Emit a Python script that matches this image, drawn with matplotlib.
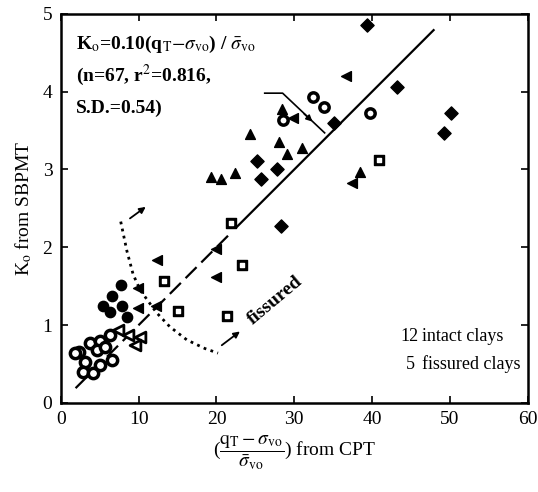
import numpy as np
import matplotlib.pyplot as plt

plt.rcParams['font.family'] = 'Liberation Serif'
plt.rcParams['mathtext.fontset'] = 'stix'

# data
dia_x = [39.3, 43.2, 35.1, 50.1, 49.2, 25.2, 27.8, 25.7, 28.3]
dia_y = [4.86, 4.06, 3.60, 3.73, 3.47, 3.11, 3.01, 2.88, 2.27]

tri_x = [28.4, 24.3, 28.1, 29.0, 31.0, 19.3, 20.6, 22.4, 38.4]
tri_y = [3.78, 3.46, 3.35, 3.20, 3.28, 2.90, 2.88, 2.96, 2.97]

ltri_x = [29.8, 37.4, 36.7, 12.3, 19.9, 19.9, 9.9, 12.2, 9.9]
ltri_y = [3.66, 2.83, 4.20, 1.84, 1.98, 1.62, 1.48, 1.24, 1.22]

sq_x = [21.9, 40.9, 23.3, 15.0, 21.3, 13.2]
sq_y = [2.31, 3.12, 1.77, 1.18, 1.12, 1.57]

hcirc_x = [32.4, 33.8, 39.7, 28.5]
hcirc_y = [3.93, 3.80, 3.72, 3.64]

circ_x = [7.7, 6.6, 5.4, 6.3, 7.8, 8.5]
circ_y = [1.52, 1.38, 1.24, 1.17, 1.24, 1.10]

otri_x = [7.3, 8.6, 10.2, 9.5]
otri_y = [0.94, 0.87, 0.85, 0.75]

ocirc_x = [2.4, 3.7, 5.0, 4.6, 5.7, 6.6, 3.1, 2.8, 4.1, 5.0, 1.8, 6.3]
ocirc_y = [0.66, 0.77, 0.79, 0.68, 0.72, 0.55, 0.53, 0.40, 0.38, 0.49, 0.64, 0.87]

slope = 0.10
dash_x = [1.9, 22.0]
solid_x = [22.6, 47.9]

# fissured boundary (dotted)
fis_x = [7.7, 8.5, 9.3, 10.2, 12.3, 14.0, 16.2, 18.5, 20.2]
fis_y = [2.33, 1.95, 1.65, 1.45, 1.16, 0.98, 0.81, 0.70, 0.64]

fig = plt.figure(figsize=(5.38, 4.92), dpi=100)
ax = fig.add_axes([0.113, 0.181, 0.868, 0.791])

k = dict(color='black', lw=0)
ax.scatter(dia_x, dia_y, marker='D', s=45, c='black', zorder=3)
ax.scatter(tri_x, tri_y, marker='^', s=50, c='black', zorder=3)
ax.scatter(ltri_x, ltri_y, marker='<', s=50, c='black', zorder=3)
ax.scatter(sq_x, sq_y, marker='s', s=50, c='black', zorder=3)
ax.scatter(sq_x, sq_y, marker='s', s=8, c='white', zorder=4)
ax.scatter(hcirc_x, hcirc_y, marker='o', s=45, facecolors='white',
           edgecolors='black', linewidths=2.5, zorder=3)
ax.scatter(circ_x, circ_y, marker='o', s=55, c='black', zorder=3)
ax.scatter(otri_x, otri_y, marker='<', s=60, facecolors='white',
           edgecolors='black', linewidths=2, zorder=3)
ax.scatter(ocirc_x, ocirc_y, marker='o', s=55, facecolors='white',
           edgecolors='black', linewidths=2.5, zorder=3)

ax.plot(dash_x, [slope * v for v in dash_x], color='black', lw=1.6,
        dashes=(7, 3))
ax.plot(solid_x, [slope * v for v in solid_x], color='black', lw=1.6)

ax.plot(fis_x, fis_y, color='black', lw=2, ls=(0, (1, 1.6)))
ax.annotate('', xy=(11.2, 2.54), xytext=(8.6, 2.35),
            arrowprops=dict(arrowstyle='-|>', color='black', lw=1.3,
                            mutation_scale=9))
ax.annotate('', xy=(23.3, 0.94), xytext=(20.4, 0.72),
            arrowprops=dict(arrowstyle='-|>', color='black', lw=1.3,
                            mutation_scale=9))
ax.text(27.6, 1.32, 'fissured', rotation=40, ha='center', va='center',
        fontsize=14, fontweight='bold')

# pointer from equation to fit line
ax.plot([26.2, 28.5, 33.9], [3.98, 3.98, 3.47], color='black', lw=1.2)
ax.annotate('', xy=(32.6, 3.59), xytext=(31.0, 3.74),
            arrowprops=dict(arrowstyle='-|>', color='black', lw=1.2,
                            mutation_scale=9))

ax.text(2.0, 4.55, r'K$_\mathrm{o}$=0.10(q$_\mathrm{T}$$-$$\sigma_\mathrm{vo}$) / $\bar{\sigma}_\mathrm{vo}$',
        fontsize=14, fontweight='bold')
ax.text(2.0, 4.13, r'(n=67, r$^2$=0.816,', fontsize=14, fontweight='bold')
ax.text(2.0, 3.72, 'S.D.=0.54)', fontsize=14, fontweight='bold')

ax.text(43.6, 0.80, '12', fontsize=13)
ax.text(46.4, 0.80, 'intact clays', fontsize=13)
ax.text(44.4, 0.44, '5', fontsize=13)
ax.text(46.4, 0.44, 'fissured clays', fontsize=13)

ax.set_xlim(0, 60)
ax.set_ylim(0, 5)
ax.set_xticks(np.arange(0, 61, 10))
ax.set_yticks(np.arange(0, 6, 1))
ax.tick_params(direction='in', length=5, width=1.2, labelsize=14,
               top=True, right=True, pad=6)
for s in ax.spines.values():
    s.set_linewidth(1.8)

ax.set_ylabel(r'K$_\mathrm{o}$ from SBPMT', fontsize=14, labelpad=6)
ax.set_xlabel(r'($\dfrac{\mathrm{q_T}-\sigma_\mathrm{vo}}{\bar{\sigma}_\mathrm{vo}}$) from CPT',
              fontsize=14, labelpad=4)

fig.savefig('out.png', dpi=100)
